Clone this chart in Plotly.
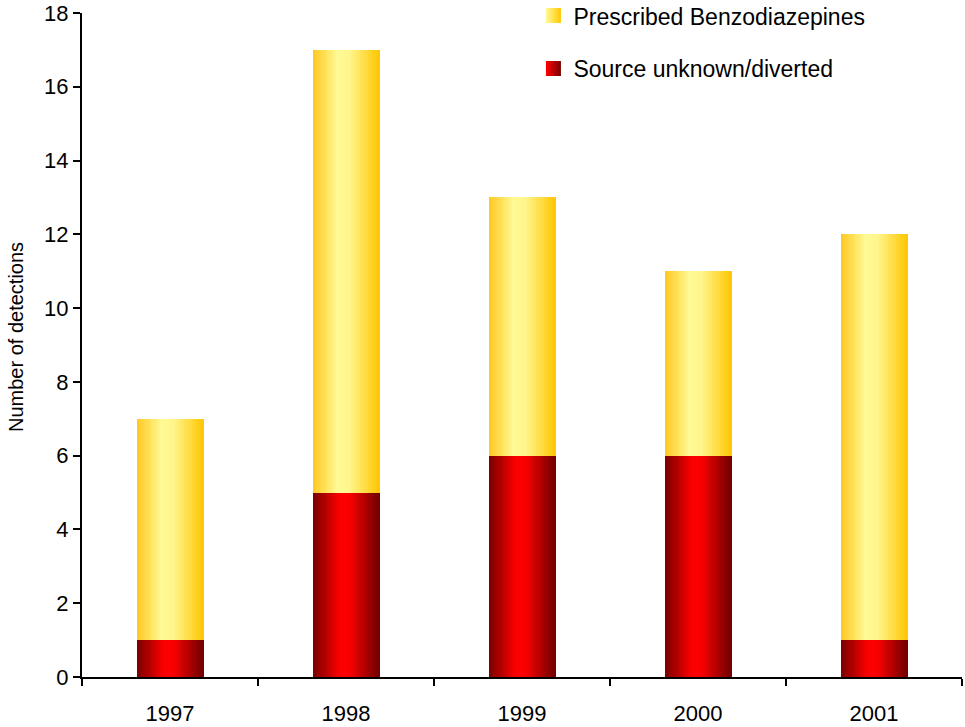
import plotly.graph_objects as go

# ---- data ----
years = ["1997", "1998", "1999", "2000", "2001"]
source_unknown = [1, 5, 6, 6, 1]
prescribed = [6, 12, 7, 5, 11]
series_names = ["Prescribed Benzodiazepines", "Source unknown/diverted"]
y_ticks = [0, 2, 4, 6, 8, 10, 12, 14, 16, 18]
y_title = "Number of detections"

# ---- style helpers ----
def lerp(c1, c2, t):
    return tuple(round(a + (b - a) * t) for a, b in zip(c1, c2))

def grad(stops, t):
    for (p0, c0), (p1, c1) in zip(stops, stops[1:]):
        if p0 <= t <= p1:
            return lerp(c0, c1, (t - p0) / (p1 - p0) if p1 > p0 else 0)
    return stops[-1][1]

yellow_stops = [(0.0, (255, 200, 30)), (0.38, (255, 250, 150)), (0.55, (255, 245, 140)), (1.0, (255, 198, 0))]
red_stops = [(0.0, (120, 0, 0)), (0.42, (255, 0, 0)), (0.55, (250, 0, 0)), (1.0, (110, 0, 0))]

W = 0.38
N = 28
sw = W / N

fig = go.Figure()
bases_yellow = source_unknown
for vals, base, stops in [(source_unknown, [0] * len(years), red_stops),
                          (prescribed, bases_yellow, yellow_stops)]:
    for i in range(N):
        t = (i + 0.5) / N
        c = grad(stops, t)
        fig.add_trace(go.Bar(
            x=years, y=vals, base=base,
            width=sw * 1.15, offset=-W / 2 + i * sw,
            marker=dict(color="rgb(%d,%d,%d)" % c, line=dict(width=0)),
            showlegend=False, hoverinfo="skip",
        ))

# legend entries
for name, center, edge, grp in [(series_names[0], "rgb(255,250,150)", "rgb(255,200,0)", "a"),
                                (series_names[1], "rgb(255,0,0)", "rgb(120,0,0)", "b")]:
    fig.add_trace(go.Scatter(
        x=[None], y=[None], mode="markers", name=name, legendgroup=grp,
        marker=dict(symbol="square", size=15, color=center,
                    gradient=dict(type="horizontal", color=edge)),
    ))

fig.add_annotation(
    text=y_title, textangle=-90, xref="paper", yref="paper",
    x=-0.075, y=0.512, xanchor="center", yanchor="middle", showarrow=False,
    font=dict(family="Liberation Sans, Arial", size=20, color="black"),
)

fig.update_layout(
    width=965, height=727,
    barmode="overlay",
    bargap=0,
    plot_bgcolor="white", paper_bgcolor="white",
    margin=dict(l=82, r=3, t=13, b=50, autoexpand=False),
    font=dict(family="Liberation Sans, Arial, sans-serif", size=22, color="black"),
    showlegend=True,
    legend=dict(x=0.513, y=1.0285, xanchor="left", yanchor="top",
                bgcolor="rgba(0,0,0,0)", font=dict(size=23),
                traceorder="grouped", tracegroupgap=20, itemsizing="trace"),
    xaxis=dict(type="category", range=[-0.5, 4.5], showline=True, linecolor="black",
               linewidth=2, ticks="outside", tickson="boundaries", ticklen=7,
               tickwidth=2, tickcolor="black", showgrid=False, zeroline=False,
               tickfont=dict(size=22), ticklabelstandoff=16),
    yaxis=dict(range=[0, 18], tickvals=y_ticks, showline=True, linecolor="black",
               linewidth=2, ticks="outside", ticklen=7, tickwidth=2, tickcolor="black",
               showgrid=False, zeroline=False, tickfont=dict(size=22)),
)

fig.write_html("out.html", config={"displayModeBar": False},
               post_script="document.body.style.margin='0';document.body.style.padding='0';")
